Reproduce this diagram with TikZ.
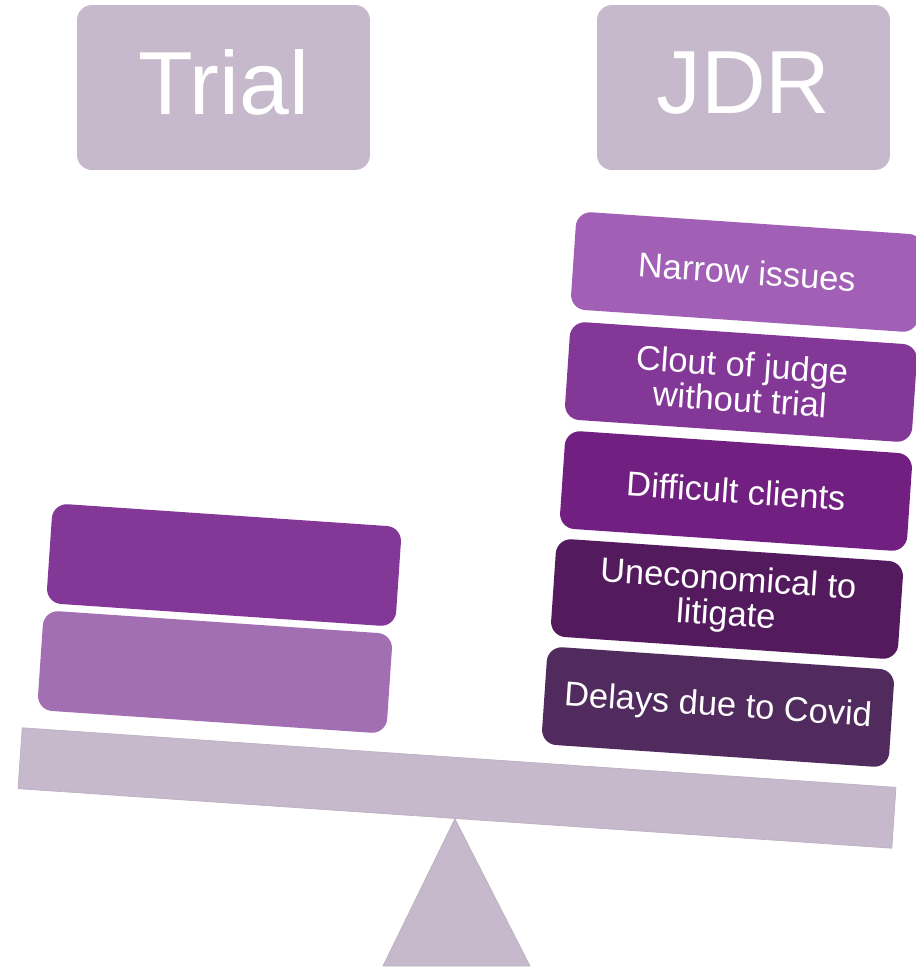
\documentclass[tikz,border=0pt]{standalone}
\usepackage{fontspec}
\setmainfont{Liberation Sans}
\definecolor{mauve}{HTML}{C6B9CC}
\definecolor{lilac}{HTML}{A15FB5}
\definecolor{plum}{HTML}{833797}
\definecolor{grape}{HTML}{721F82}
\definecolor{aubergine}{HTML}{531A5E}
\definecolor{dusk}{HTML}{512B5E}
\definecolor{orchid}{HTML}{A270B2}
\begin{document}
\begin{tikzpicture}[x=0.02cm, y=-0.02cm, line join=round, line cap=round]
            \def\ang{-3.9} % tilt of the scale
            \tikzset{
                head/.style={fill=mauve, rounded corners=0.3cm, minimum width=5.86cm, minimum height=3.3cm, text=white, text depth=0.2cm, font=\fontsize{51}{51}\selectfont},
                weight/.style={rounded corners=0.3cm, minimum width=6.96cm, minimum height=1.96cm, rotate=\ang, text=white, align=center, inner sep=0pt, font=\fontsize{19.6}{20}\selectfont}
            }
            \useasboundingbox (0,0) rectangle (916,967);
            \node[head] (trial) at (223.5,87.5) {Trial};
            \node[head] (jdr) at (743.5,87.5) {JDR};
            % beam and pivot
            \node[fill=mauve, draw=mauve!95!black, line width=0.4pt, minimum width=17.52cm, minimum height=1.22cm, rotate=\ang] (beam) at (457,788) {};
            \filldraw[fill=mauve, draw=mauve!95!black, line width=0.4pt] (beam.south) -- (383,966) -- (530,966) -- cycle;
            % trial side
            \node[weight, fill=plum, minimum width=7cm, minimum height=2cm] (t1) at (224,565) {};
            \node[weight, fill=orchid, minimum width=7cm, minimum height=2cm] (t2) at (215,672) {};
            % jdr side
            \node[weight, fill=lilac] (j1) at (747,272) {Narrow issues};
            \node[weight, fill=plum] (j2) at (741,382) {Clout of judge\\without trial};
            \node[weight, fill=grape] (j3) at (736,491) {Difficult clients};
            \node[weight, fill=aubergine] (j4) at (727,599) {Uneconomical to\\litigate};
            \node[weight, fill=dusk] (j5) at (718,707) {Delays due to Covid};
        \end{tikzpicture}
\end{document}
